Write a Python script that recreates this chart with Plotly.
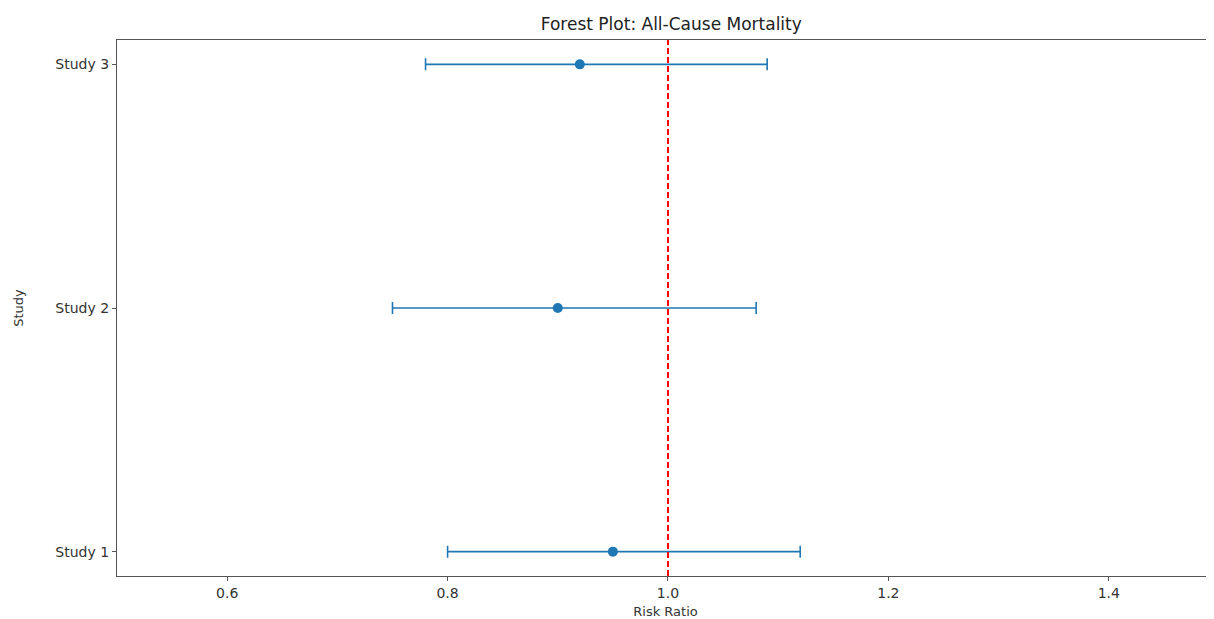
import plotly.graph_objects as go

studies = ["Study 1", "Study 2", "Study 3"]
risk_ratio = [0.95, 0.90, 0.92]
ci_lower = [0.80, 0.75, 0.78]
ci_upper = [1.12, 1.08, 1.09]
x_ticks = [0.6, 0.8, 1.0, 1.2, 1.4]
null_value = 1.0

ypos = list(range(len(studies)))
err_plus = [u - r for u, r in zip(ci_upper, risk_ratio)]
err_minus = [r - l for r, l in zip(risk_ratio, ci_lower)]

fig = go.Figure()
fig.add_trace(go.Scatter(
    x=risk_ratio, y=ypos, mode="markers",
    marker=dict(color="#1f77b4", size=10),
    error_x=dict(type="data", symmetric=False, array=err_plus, arrayminus=err_minus,
                 color="#1f77b4", thickness=1.6, width=6),
    showlegend=False,
))
fig.add_shape(type="line", xref="x", yref="paper", x0=null_value, x1=null_value, y0=0, y1=1,
              line=dict(color="red", width=2, dash="6px,3px"))

fig.update_layout(
    width=1206, height=611,
    margin=dict(l=109, r=0, t=32, b=43),
    paper_bgcolor="white", plot_bgcolor="white",
    font=dict(family="DejaVu Sans", size=14, color="#333"),
    title=dict(text="Forest Plot: All-Cause Mortality", x=0.55, xanchor="center",
               y=0.974, yanchor="middle", font=dict(size=17, color="#222")),
    xaxis=dict(range=[0.5, 1.4955], tickvals=x_ticks, ticktext=[f"{v:.1f}" for v in x_ticks],
               showgrid=False, zeroline=False, showline=True, linecolor="#555", linewidth=1.3,
               mirror=True, ticks="outside", ticklen=4, tickcolor="#555",
               title=dict(text="Risk Ratio", standoff=6, font=dict(size=13))),
    yaxis=dict(range=[-0.1, 2.1], tickvals=ypos, ticktext=studies,
               showgrid=False, zeroline=False, showline=True, linecolor="#555", linewidth=1.3,
               ticks="outside", ticklen=4, tickcolor="#555",
               title=dict(text="Study", standoff=28, font=dict(size=13))),
)
fig.write_html("out.html")
